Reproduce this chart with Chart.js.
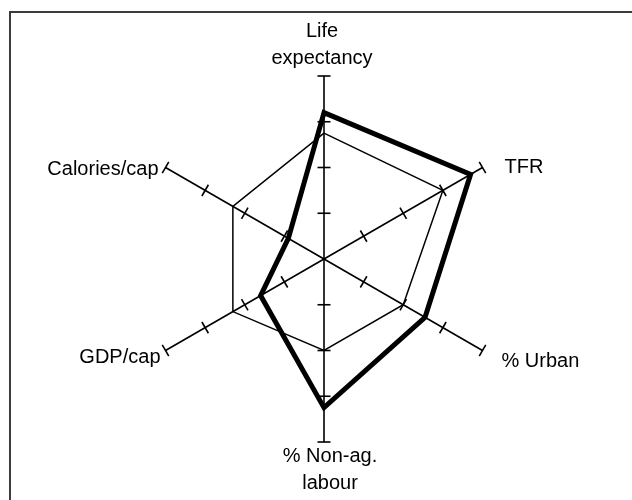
<!DOCTYPE html>
<html>
<head>
<meta charset="utf-8">
<script src="https://cdn.jsdelivr.net/npm/chart.js@4.4.1/dist/chart.umd.min.js"></script>
<style>
  html, body { margin: 0; padding: 0; background: #fff; }
  #wrap { position: relative; width: 632px; height: 500px; }
  #frame {
    position: absolute; left: 9px; top: 11px; right: 0; bottom: 0;
    border-left: 2px solid #3c3c3c; border-top: 2px solid #3c3c3c;
  }
  canvas { position: absolute; left: 0; top: 0; }
</style>
</head>
<body>
<div id="wrap">
  <div id="frame"></div>
  <canvas id="radar"></canvas>
</div>
<script>
// axes, clockwise from the top
const axisLabels = [
    ['Life', 'expectancy'],
    ['TFR'],
    ['% Urban'],
    ['% Non-ag.', 'labour'],
    ['GDP/cap'],
    ['Calories/cap']
];
const referenceValues = [2.75, 3, 2, 2, 2.3, 2.3];
const countryValues = [3.2, 3.7, 2.55, 3.25, 1.6, 0.9];
const tickValues = [1, 2, 3, 4];
const scaleMax = 4;

// where each label sits relative to its axis end: [dx, dy of first baseline, align]
const labelPlacement = [
    [-2, -39, 'center'],
    [22, 5, 'left'],
    [19, 16, 'left'],
    [6, 20, 'center'],
    [-5, 12, 'right'],
    [-7, 7, 'right']
];
const lineGap = 27;

const axisTicks = {
    id: 'axisTicks',
    afterDatasetsDraw(chart) {
        const scale = chart.scales.r;
        const ctx = chart.ctx;
        ctx.save();
        ctx.strokeStyle = '#000';
        ctx.lineWidth = 1.6;
        for (let i = 0; i < axisLabels.length; i++) {
            const a = scale.getIndexAngle(i) - Math.PI / 2;
            const px = -Math.sin(a), py = Math.cos(a);
            tickValues.forEach(v => {
                const p = scale.getPointPositionForValue(i, v);
                ctx.beginPath();
                ctx.moveTo(p.x - 6.5 * px, p.y - 6.5 * py);
                ctx.lineTo(p.x + 6.5 * px, p.y + 6.5 * py);
                ctx.stroke();
            });
        }
        // labels
        ctx.fillStyle = '#000';
        ctx.font = '20px "Liberation Sans", Arial, sans-serif';
        ctx.textBaseline = 'alphabetic';
        axisLabels.forEach((lines, i) => {
            const end = scale.getPointPositionForValue(i, scaleMax);
            const [dx, dy, align] = labelPlacement[i];
            ctx.textAlign = align;
            lines.forEach((t, k) => {
                ctx.fillText(t, end.x + dx, end.y + dy + k * lineGap);
            });
        });
        ctx.restore();
    }
};

new Chart(document.getElementById('radar'), {
    type: 'radar',
    data: {
        labels: axisLabels.map(l => l.join(' ')),
        datasets: [
            {
                data: countryValues,
                borderColor: '#000',
                borderWidth: 5,
                fill: false,
                pointRadius: 0,
                borderJoinStyle: 'miter'
            },
            {
                data: referenceValues,
                borderColor: '#000',
                borderWidth: 1.5,
                fill: false,
                pointRadius: 0
            }
        ]
    },
    options: {
        responsive: true,
        maintainAspectRatio: false,
        animation: false,
        layout: { padding: { left: 16, right: 0, top: 76, bottom: 58 } },
        plugins: {
            legend: { display: false },
            tooltip: { enabled: false }
        },
        scales: {
            r: {
                min: 0,
                max: scaleMax,
                ticks: { display: false, stepSize: 1 },
                grid: { display: false },
                angleLines: { display: true, color: '#000', lineWidth: 1.6 },
                pointLabels: { display: false }
            }
        }
    },
    plugins: [axisTicks]
});
</script>
</body>
</html>
